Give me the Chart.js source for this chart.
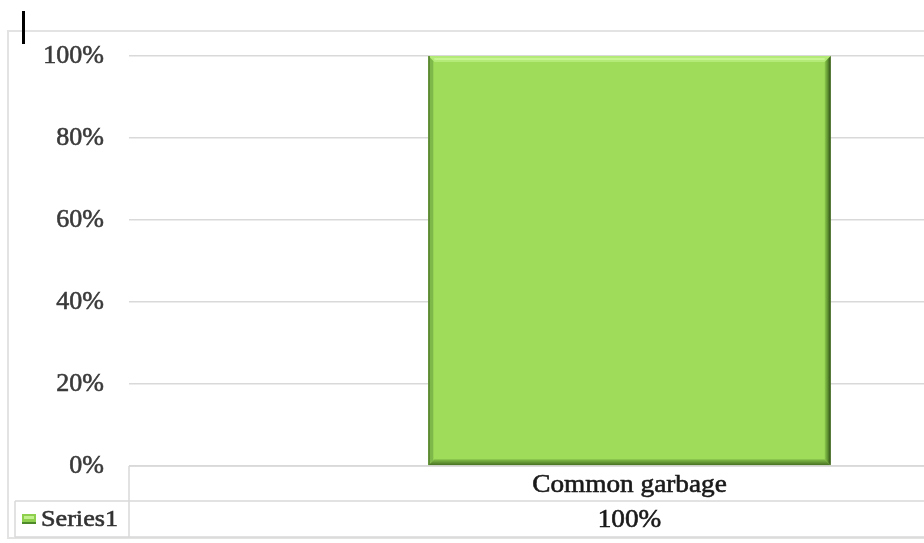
<!DOCTYPE html>
<html>
<head>
<meta charset="utf-8">
<script src="https://cdn.jsdelivr.net/npm/chart.js@4"></script>
<style>
  html, body { margin:0; padding:0; background:#fff; overflow:hidden; width:924px; height:543px; }
  #wrap { position:absolute; left:0; top:0; width:1130px; height:543px; }
  #frame { position:absolute; left:7px; top:30px; width:1200px; height:509px; border:2px solid #e3e3e3; box-sizing:border-box; }
  #cursor { position:absolute; left:22px; top:11px; width:3px; height:33px; background:#000; }
</style>
</head>
<body>
<div id="frame"></div>
<div id="wrap"><canvas id="c"></canvas></div>
<div id="cursor"></div>
<script>
  const categories = ['Common garbage'];
  const seriesName = 'Series1';
  const series1 = [100];
  const yTicks = [0, 20, 40, 60, 80, 100];

  const FONT = '"Liberation Serif", "Times New Roman", serif';
  const LINE = '#d9d9d9';

  // Excel-ish bevel on the bars
  const bevel = {
    id: 'bevel',
    afterDatasetsDraw(chart){
      const ctx = chart.ctx;
      chart.getDatasetMeta(0).data.forEach(b => {
        const l = b.x - b.width/2, r = b.x + b.width/2, t = b.y, btm = b.base;
        ctx.save();
        // top highlight
        ctx.fillStyle = '#b4eb78';
        ctx.beginPath(); ctx.moveTo(l, t); ctx.lineTo(r, t); ctx.lineTo(r-6, t+6); ctx.lineTo(l+6, t+6); ctx.closePath(); ctx.fill();
        ctx.fillStyle = '#c6f592'; ctx.fillRect(l+6, t+2, r-l-12, 2);
        // right shadow
        let g = ctx.createLinearGradient(r-6, 0, r, 0);
        g.addColorStop(0, '#8cc94e'); g.addColorStop(0.5, '#5f9432'); g.addColorStop(1, '#2c4716');
        ctx.fillStyle = g;
        ctx.beginPath(); ctx.moveTo(r, t); ctx.lineTo(r, btm); ctx.lineTo(r-6, btm-6); ctx.lineTo(r-6, t+6); ctx.closePath(); ctx.fill();
        // bottom shadow
        g = ctx.createLinearGradient(0, btm-6, 0, btm);
        g.addColorStop(0, '#86c24a'); g.addColorStop(1, '#466f23');
        ctx.fillStyle = g;
        ctx.beginPath(); ctx.moveTo(l, btm); ctx.lineTo(r, btm); ctx.lineTo(r-6, btm-6); ctx.lineTo(l+6, btm-6); ctx.closePath(); ctx.fill();
        // left edge
        ctx.fillStyle = '#7fb84a';
        ctx.beginPath(); ctx.moveTo(l, t); ctx.lineTo(l+5, t+5); ctx.lineTo(l+5, btm-5); ctx.lineTo(l, btm); ctx.closePath(); ctx.fill();
        ctx.fillStyle = '#557f30'; ctx.fillRect(l, t, 1.5, btm-t);
        ctx.restore();
      });
    }
  };

  // data table under the plot
  const dataTable = {
    id: 'dataTable',
    afterDraw(chart){
      const ctx = chart.ctx, a = chart.chartArea, x = chart.scales.x;
      const row1 = a.bottom, row2 = a.bottom + 35, row3 = a.bottom + 71, legL = 15, right = chart.width;
      ctx.save();
      ctx.strokeStyle = LINE; ctx.lineWidth = 1.5;
      ctx.beginPath();
      ctx.moveTo(a.left, row1); ctx.lineTo(right, row1);
      ctx.moveTo(legL, row2); ctx.lineTo(right, row2);
      ctx.moveTo(legL, row3); ctx.lineTo(right, row3);
      ctx.moveTo(a.left, row1); ctx.lineTo(a.left, row3);
      ctx.moveTo(legL, row2); ctx.lineTo(legL, row3);
      ctx.stroke();
      // text is a little wider in the original, stretch it sideways
      const txt = (s, px, py, col) => {
        ctx.save();
        ctx.translate(px, py); ctx.scale(1.09, 1);
        ctx.fillStyle = col; ctx.strokeStyle = col; ctx.lineWidth = 0.6;
        ctx.fillText(s, 0, 0); ctx.strokeText(s, 0, 0);
        ctx.restore();
      };
      ctx.font = '25px ' + FONT;
      ctx.textAlign = 'center'; ctx.textBaseline = 'middle';
      categories.forEach((c, i) => {
        const cx = x.getPixelForValue(i);
        txt(c, cx, (row1 + row2)/2 + 2, '#1a1a1a');
        txt(series1[i] + '%', cx, (row2 + row3)/2 + 1, '#1a1a1a');
      });
      ctx.fillStyle = '#8ed04e'; ctx.fillRect(legL + 7, (row2+row3)/2 - 5, 14, 10);
      ctx.fillStyle = '#c3f08f'; ctx.fillRect(legL + 9, (row2+row3)/2 - 3, 10, 3);
      ctx.fillStyle = '#4f8a2a'; ctx.fillRect(legL + 7, (row2+row3)/2 + 3, 14, 2);
      ctx.textAlign = 'left';
      ctx.font = '24px ' + FONT;
      txt(seriesName, legL + 26, (row2 + row3)/2 + 1, '#333');
      ctx.restore();
    }
  };

  new Chart(document.getElementById('c'), {
    type: 'bar',
    data: {
      labels: categories,
      datasets: [{ label: seriesName, data: series1, backgroundColor: '#9edc5a', borderWidth: 0,
                   barPercentage: 0.402, categoryPercentage: 1 }]
    },
    options: {
      responsive: true, maintainAspectRatio: false, animation: false,
      layout: { padding: { top: 56, bottom: 77, left: 0, right: 0 } },
      plugins: { legend: { display: false }, tooltip: { enabled: false } },
      scales: {
        x: { display: false },
        y: {
          min: 0, max: 100,
          afterFit(s){ s.width = 129; },
          afterBuildTicks(s){ s.ticks = yTicks.map(v => ({ value: v })); },
          border: { display: false },
          grid: { color: LINE, lineWidth: 1.5, drawTicks: false },
          ticks: { padding: 25, color: '#3a3a3a', textStrokeColor: '#3a3a3a', textStrokeWidth: 0.6,
                   font: { family: FONT, size: 26 }, callback: v => v + '%' }
        }
      }
    },
    plugins: [bevel, dataTable]
  });
</script>
</body>
</html>
